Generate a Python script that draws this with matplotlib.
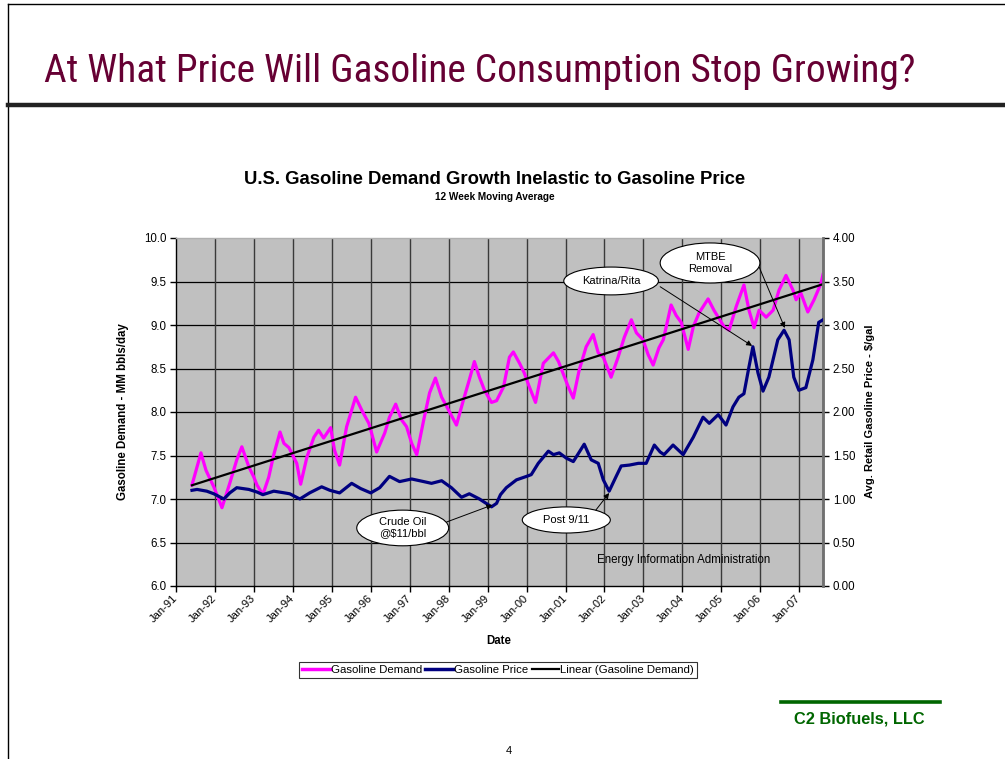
import numpy as np
import matplotlib
matplotlib.use("Agg")
import matplotlib.pyplot as plt
from matplotlib import font_manager
from matplotlib.font_manager import FontProperties
from matplotlib.patches import Ellipse
from matplotlib.lines import Line2D

# ---------------- data ----------------
demand_x = [1991.41, 1991.64, 1991.77, 1991.97, 1992.18, 1992.38, 1992.56, 1992.69, 1992.87, 1993.00,
            1993.08, 1993.23, 1993.38, 1993.51, 1993.67, 1993.77, 1993.90, 1994.10, 1994.20, 1994.36,
            1994.54, 1994.66, 1994.79, 1994.97, 1995.07, 1995.20, 1995.38, 1995.61, 1995.77, 1995.95,
            1996.02, 1996.15, 1996.36, 1996.48, 1996.64, 1996.79, 1996.92, 1997.05, 1997.18, 1997.36,
            1997.51, 1997.66, 1997.82, 1998.00, 1998.20, 1998.38, 1998.53, 1998.66, 1998.79, 1998.92,
            1999.10, 1999.23, 1999.41, 1999.56, 1999.66, 1999.82, 1999.94, 2000.07, 2000.23, 2000.43,
            2000.69, 2000.82, 2001.07, 2001.20, 2001.35, 2001.53, 2001.71, 2001.84, 2001.97, 2002.17,
            2002.35, 2002.51, 2002.69, 2002.82, 2002.99, 2003.12, 2003.25, 2003.40, 2003.51, 2003.71,
            2003.84, 2003.97, 2004.15, 2004.28, 2004.43, 2004.66, 2004.81, 2005.07, 2005.20, 2005.38,
            2005.58, 2005.71, 2005.84, 2005.97, 2006.15, 2006.33, 2006.48, 2006.66, 2006.84, 2006.92,
            2007.04, 2007.22, 2007.38, 2007.56, 2007.61]
demand_y = [7.16, 7.53, 7.33, 7.14, 6.90, 7.18, 7.45, 7.60, 7.37, 7.25,
            7.16, 7.05, 7.25, 7.51, 7.77, 7.64, 7.59, 7.41, 7.17, 7.48,
            7.71, 7.79, 7.70, 7.82, 7.56, 7.39, 7.83, 8.17, 8.02, 7.87,
            7.76, 7.54, 7.76, 7.94, 8.09, 7.91, 7.83, 7.64, 7.51, 7.91,
            8.22, 8.39, 8.17, 8.02, 7.85, 8.14, 8.37, 8.58, 8.40, 8.25,
            8.11, 8.13, 8.29, 8.63, 8.69, 8.56, 8.45, 8.29, 8.11, 8.56,
            8.68, 8.58, 8.29, 8.16, 8.48, 8.75, 8.89, 8.68, 8.63, 8.40,
            8.63, 8.86, 9.06, 8.91, 8.83, 8.66, 8.54, 8.74, 8.83, 9.23,
            9.11, 9.03, 8.72, 8.98, 9.14, 9.30, 9.17, 8.98, 8.94, 9.21,
            9.46, 9.17, 8.97, 9.17, 9.09, 9.17, 9.40, 9.57, 9.40, 9.29,
            9.37, 9.15, 9.29, 9.48, 9.58]

price_x = [1991.41, 1991.54, 1991.79, 1991.97, 1992.23, 1992.38, 1992.56, 1992.87, 1993.08, 1993.23,
           1993.51, 1993.79, 1993.92, 1994.18, 1994.43, 1994.74, 1994.95, 1995.20, 1995.51, 1995.74,
           1996.00, 1996.23, 1996.48, 1996.74, 1997.05, 1997.36, 1997.56, 1997.82, 1998.07, 1998.33,
           1998.53, 1998.79, 1999.10, 1999.23, 1999.33, 1999.48, 1999.74, 2000.00, 2000.12, 2000.30,
           2000.56, 2000.69, 2000.84, 2001.02, 2001.20, 2001.48, 2001.66, 2001.84, 2001.97, 2002.12,
           2002.30, 2002.43, 2002.64, 2002.87, 2003.07, 2003.28, 2003.43, 2003.53, 2003.76, 2004.02,
           2004.28, 2004.53, 2004.69, 2004.92, 2005.12, 2005.30, 2005.45, 2005.58, 2005.71, 2005.81,
           2005.94, 2006.07, 2006.22, 2006.45, 2006.61, 2006.74, 2006.86, 2006.99, 2007.17, 2007.35,
           2007.50, 2007.61]
price_y = [1.10, 1.11, 1.09, 1.06, 1.00, 1.07, 1.13, 1.11, 1.08, 1.05,
           1.09, 1.07, 1.06, 1.00, 1.07, 1.14, 1.10, 1.07, 1.18, 1.12,
           1.07, 1.13, 1.26, 1.20, 1.23, 1.20, 1.18, 1.21, 1.13, 1.02,
           1.06, 1.00, 0.91, 0.95, 1.05, 1.13, 1.22, 1.26, 1.28, 1.41,
           1.55, 1.51, 1.53, 1.47, 1.43, 1.63, 1.45, 1.41, 1.22, 1.09,
           1.26, 1.38, 1.39, 1.41, 1.41, 1.62, 1.54, 1.51, 1.62, 1.51,
           1.71, 1.94, 1.87, 1.97, 1.85, 2.06, 2.17, 2.21, 2.52, 2.75,
           2.45, 2.24, 2.40, 2.83, 2.94, 2.83, 2.40, 2.25, 2.28, 2.60,
           3.03, 3.06]

year_ticks = list(range(1991, 2008))
year_labels = ["Jan-%02d" % (y % 100) for y in year_ticks]
left_ticks = [6.0, 6.5, 7.0, 7.5, 8.0, 8.5, 9.0, 9.5, 10.0]
right_ticks = [0.0, 0.5, 1.0, 1.5, 2.0, 2.5, 3.0, 3.5, 4.0]

# ---------------- fonts ----------------
names = {f.name for f in font_manager.fontManager.ttflist}
sans = "Liberation Sans" if "Liberation Sans" in names else "DejaVu Sans"
plt.rcParams["font.family"] = [sans, "DejaVu Sans"]


def find_narrow():
    entries = font_manager.fontManager.ttflist
    prefs = ["liberation sans narrow", "arial narrow", "roboto condensed",
             "noto sans condensed", "open sans condensed", "nimbus sans narrow",
             "lato", "dejavu sans condensed"]
    cands = []
    for f in entries:
        fn = f.fname.lower().replace("-", " ").replace("_", " ")
        nm = f.name.lower()
        if ("bold" in fn or "italic" in fn or "oblique" in fn or "light" in fn
                or "black" in fn or "thin" in fn or "semi" in fn or "medium" in fn
                or "extra" in fn):
            continue
        if not ("narrow" in fn or "narrow" in nm or "condensed" in fn or "condensed" in nm
                or str(f.stretch).startswith("condensed")):
            continue
        key = nm + " " + fn
        rank = len(prefs)
        for i, p in enumerate(prefs):
            pw = p.split()
            if all(w in key for w in pw):
                rank = i
                break
        cands.append((rank, f.fname))
    if cands:
        cands.sort()
        return FontProperties(fname=cands[0][1])
    return FontProperties(family=sans)


title_fp = find_narrow()

W, H = 1005, 759
fig = plt.figure(figsize=(W / 100, H / 100), dpi=100)
fig.patch.set_facecolor("white")


def fx(px):
    return px / W


def fy(py):
    return 1 - py / H


# slide frame lines
fig.add_artist(Line2D([fx(8), 1.0], [fy(4), fy(4)], color="black", lw=1.0))
fig.add_artist(Line2D([fx(8), fx(8)], [fy(4), 0.0], color="black", lw=1.0))
fig.add_artist(Line2D([fx(8), 1.0], [fy(104.5), fy(104.5)], color="#222222", lw=3.2))

title = fig.text(fx(480), fy(82), "At What Price Will Gasoline Consumption Stop Growing?",
                 fontproperties=title_fp, color="#660033", ha="center", va="baseline")
title.set_fontsize(27)
fig.canvas.draw()
tw = title.get_window_extent().width
title.set_fontsize(27 * 870.0 / tw)

# chart title
fig.text(fx(495), fy(180), "U.S. Gasoline Demand Growth Inelastic to Gasoline Price",
         fontsize=13.3, fontweight="bold", ha="center", va="center")
fig.text(fx(495), fy(197), "12 Week Moving Average", fontsize=7.2, fontweight="bold",
         ha="center", va="center")

# ---------------- axes ----------------
ax = fig.add_axes([fx(176), fy(586), fx(823) - fx(176), fy(238) - fy(586)])
ax.set_facecolor("#C0C0C0")
ax.set_xlim(1991.0, 2007.61)
ax.set_ylim(6.0, 10.0)
ax.set_yticks(left_ticks)
ax.set_yticklabels(["%.1f" % v for v in left_ticks], fontsize=8.3)
ax.set_xticks(year_ticks)
ax.set_xticklabels(year_labels, fontsize=8, rotation=45, ha="right", va="center",
                   rotation_mode="anchor")
ax.tick_params(axis="both", direction="out", length=4, width=1, color="black", pad=3)
ax.tick_params(axis="x", pad=4)
for y in left_ticks[1:-1]:
    ax.axhline(y, color="black", lw=0.9, zorder=1)
for x in year_ticks[1:]:
    ax.axvline(x, color="#3a3a3a", lw=1.0, zorder=1)
for s in ax.spines.values():
    s.set_color("black")
    s.set_linewidth(1.0)
ax.spines["top"].set_color("#B0B0B0")

ax.plot(demand_x, demand_y, color="#FF00FF", lw=2.3, zorder=3, solid_joinstyle="round")
coef = np.polyfit(demand_x, demand_y, 1)
tx = np.array([demand_x[0], demand_x[-1]])
ax.plot(tx, np.polyval(coef, tx), color="black", lw=1.6, zorder=4)

ax2 = ax.twinx()
ax2.set_ylim(0.0, 4.0)
ax2.set_yticks(right_ticks)
ax2.set_yticklabels(["%.2f" % v for v in right_ticks], fontsize=8.3)
ax2.tick_params(axis="y", direction="out", length=4, width=1, color="black", pad=3)
for s in ax2.spines.values():
    s.set_visible(False)
ax2.spines["right"].set_visible(True)
ax2.spines["right"].set_color("#707070")
ax2.spines["right"].set_linewidth(2.0)
ax2.plot(price_x, price_y, color="#000080", lw=2.3, zorder=3, solid_joinstyle="round")


# annotations (ellipse callouts)
def callout(cx, cy, w, h, text, start, end):
    e = Ellipse((cx, cy), w, h, facecolor="white", edgecolor="black", lw=0.8,
                zorder=6, clip_on=False)
    ax2.add_patch(e)
    ax2.text(cx, cy, text, fontsize=8, ha="center", va="center", zorder=7,
             linespacing=1.15)
    ax2.annotate("", xy=end, xytext=start,
                 arrowprops=dict(arrowstyle="-|>", color="black", lw=0.7,
                                 mutation_scale=8, shrinkA=0, shrinkB=0),
                 zorder=5)


callout(2002.17, 3.506, 2.43, 0.32, "Katrina/Rita", (2003.43, 3.44), (2005.79, 2.76))
callout(2004.71, 3.713, 2.56, 0.46, "MTBE\nRemoval", (2005.97, 3.667), (2006.63, 2.966))
callout(1996.82, 0.667, 2.36, 0.41, "Crude Oil\n@$11/bbl", (1997.95, 0.736), (1999.12, 0.931))
callout(2001.02, 0.759, 2.26, 0.30, "Post 9/11", (2001.76, 0.862), (2002.12, 1.069))

ax2.text(2004.02, 0.30, "Energy Information Administration", fontsize=8.3,
         ha="center", va="center", zorder=7)

# axis labels
fig.text(fx(123), fy(412), "Gasoline Demand - MM bbls/day", rotation=90, fontsize=8.3,
         fontweight="bold", ha="center", va="center")
fig.text(fx(870), fy(411), "Avg. Retail Gasoline Price - $/gal", rotation=90, fontsize=8,
         fontweight="bold", ha="center", va="center")
fig.text(fx(499), fy(641), "Date", fontsize=8.3, fontweight="bold", ha="center", va="center")

# legend
handles = [Line2D([], [], color="#FF00FF", lw=2.5),
           Line2D([], [], color="#000080", lw=2.5),
           Line2D([], [], color="black", lw=1.6)]
leg = fig.legend(handles, ["Gasoline Demand", "Gasoline Price", "Linear (Gasoline Demand)"],
                 loc="center", bbox_to_anchor=(fx(498), fy(670)), ncol=3, fontsize=8.2,
                 frameon=True, fancybox=False, edgecolor="black", handlelength=2.4,
                 handletextpad=0.1, columnspacing=0.3, borderpad=0.25)
leg.get_frame().set_linewidth(0.8)

# footer
fig.add_artist(Line2D([fx(781), fx(940)], [fy(702), fy(702)], color="#006600", lw=2.6))
fig.text(fx(859), fy(719), "C2 Biofuels, LLC", fontsize=11.8, fontweight="bold",
         color="#006600", ha="center", va="center")
fig.text(fx(509), fy(751), "4", fontsize=8, ha="center", va="center")

fig.savefig("out.png", dpi=100)
